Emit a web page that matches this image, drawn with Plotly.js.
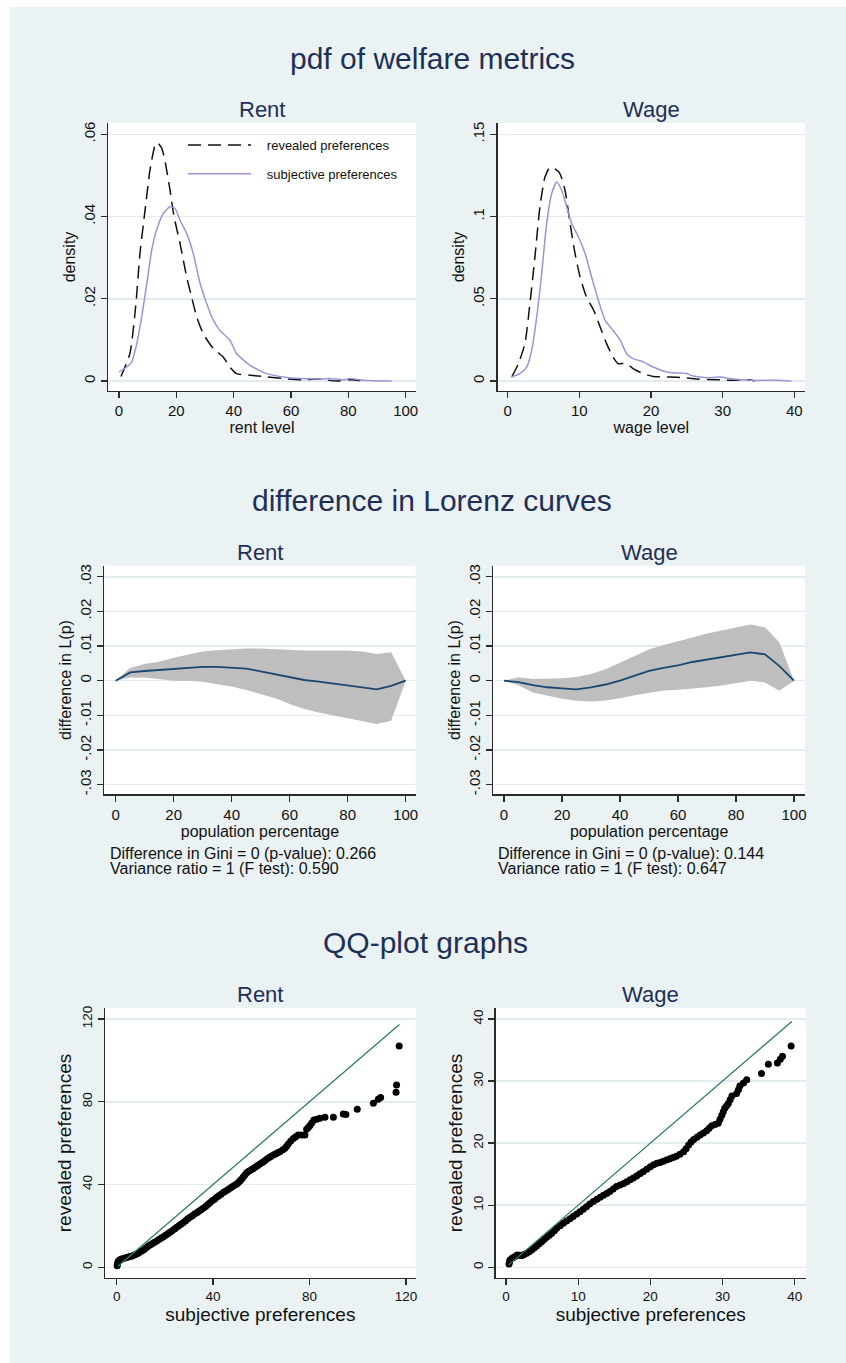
<!DOCTYPE html>
<html>
<head>
<meta charset="utf-8">
<script src="https://cdn.plot.ly/plotly-3.0.1.min.js"></script>
<style>
  html, body { margin: 0; padding: 0; background: #ffffff; }
  #chart { position: absolute; left: 10px; top: 7px; width: 836px; height: 1356px; }
</style>
</head>
<body>
<div id="chart"></div>
<script>
// ---------------- DATA ----------------
// pdf of welfare metrics — Rent
const pdfRentRevX = [0.7, 3.8, 5.9, 7.3, 9.1, 10.8, 12.6, 13.4, 14.9, 16, 17.8, 19.2, 21.3, 23.6, 25.3, 27.1, 29.4, 32.9, 36.4, 38.7, 41, 45.7, 51.5, 57.3, 64.3, 69, 76, 80.6, 85];
const pdfRentRevY = [.0011, .0067, .0188, .031, .0416, .0513, .0574, .058, .0566, .0537, .0464, .040, .0334, .0253, .0205, .0156, .0115, .0079, .0058, .0034, .0018, .0014, .001, .0006, .0003, .0005, 0, .0003, 0];
const pdfRentSubX = [0, 2.7, 4.4, 6.2, 7.9, 9.7, 11.4, 13.1, 15.5, 17.8, 19.5, 21.3, 23.6, 25.9, 28.3, 30.6, 32.9, 35.2, 38.7, 41, 45.7, 51.5, 57.3, 63.1, 71.3, 73.6, 78.3, 80.6, 85.2, 95.1];
const pdfRentSubY = [.0022, .0034, .0046, .0091, .0156, .0237, .0318, .0367, .0408, .0424, .042, .0391, .0359, .031, .0237, .0188, .0148, .0123, .0099, .0067, .0038, .0018, .001, .0006, .0005, .0006, .0003, .0006, .0002, 0];

// pdf of welfare metrics — Wage
const pdfWageRevX = [0.56, 1.5, 2.4, 3.1, 3.8, 4.5, 5.2, 5.9, 6.6, 7.3, 8.0, 8.7, 9.4, 10.1, 11.0, 12.0, 12.9, 13.8, 14.7, 15.4, 16.6, 17.5, 18.9, 20.3, 22.7, 24.5, 26.4, 29.2, 31, 33.8, 34.5];
const pdfWageRevY = [.0024, .0106, .0227, .047, .0755, .106, .124, .130, .129, .126, .116, .0958, .0775, .0633, .0511, .043, .0329, .0227, .0146, .0106, .0106, .0075, .0045, .0028, .0024, .002, .0012, .0008, .0004, .0008, 0];
const pdfWageSubX = [0.47, 1.7, 2.65, 3.35, 4.05, 4.74, 5.44, 6.14, 6.84, 7.53, 8.23, 8.93, 9.86, 10.8, 11.7, 12.65, 13.6, 14.7, 15.7, 16.6, 17.5, 18.9, 20.3, 22.2, 23.6, 25, 25.9, 27.8, 29.6, 31.5, 33.8, 37.5, 39.6];
const pdfWageSubY = [.0024, .0045, .0085, .0187, .039, .0654, .0958, .114, .121, .116, .106, .0958, .0877, .0775, .0633, .0491, .0369, .0308, .0248, .0166, .0136, .0116, .0085, .0055, .0049, .0045, .003, .002, .0024, .0012, .0004, .0004, 0];

// difference in Lorenz curves
const popPct = [0, 5, 10, 15, 20, 25, 30, 35, 40, 45, 50, 55, 60, 65, 70, 75, 80, 85, 90, 95, 100];
const rentDiff  = [0, .0024, .0028, .0031, .0036, .0038, .004, .004, .0037, .0035, .0027, .0019, .001, .0002, -.0003, -.0008, -.0012, -.0019, -.0025, -.0015, 0];
const rentUpper = [0, .0037, .0048, .0055, .0066, .0076, .0084, .0088, .0091, .0093, .0093, .0091, .0088, .0087, .0087, .0087, .0087, .0084, .0077, .0082, 0];
const rentLower = [0, .0009, .0009, .0004, 0, 0, -.0003, -.001, -.0017, -.0027, -.0038, -.0051, -.0067, -.0082, -.0092, -.01, -.0107, -.0115, -.0125, -.0116, 0];
const wageDiff  = [0, -.0004, -.0013, -.0019, -.0022, -.0025, -.0019, -.0011, 0, .0014, .0028, .0037, .0044, .0054, .0061, .0068, .0076, .0082, .0076, .0042, 0];
const wageUpper = [0, .001, .0005, .0006, .0007, .0011, .0019, .0033, .0052, .0072, .009, .0103, .0113, .0125, .0136, .0144, .0154, .0162, .0154, .011, 0];
const wageLower = [0, -.0013, -.0034, -.0043, -.0052, -.0058, -.006, -.0057, -.0051, -.0042, -.0035, -.0028, -.0026, -.0023, -.0019, -.0014, -.0008, 0, -.0005, -.0029, 0];
const rentGiniText = ["Difference in Gini = 0 (p-value): 0.266", "Variance ratio = 1 (F test): 0.590"];
const wageGiniText = ["Difference in Gini = 0 (p-value): 0.144", "Variance ratio = 1 (F test): 0.647"];

// QQ-plot graphs — Rent (subjective, revealed quantiles)
const qqRentX = [0.2,0.3,0.5,0.8,1.3,2.0,2.8,3.7,4.6,5.5,6.4,7.3,8.3,9.2,10.1,11.1,12.0,12.9,13.8,14.7,15.7,16.6,17.5,18.5,19.4,20.3,21.2,22.1,23.0,24.0,24.9,25.8,26.8,27.7,28.6,29.5,30.4,31.4,32.3,33.2,34.1,35.0,35.9,36.9,37.8,38.7,39.6,40.6,41.5,42.4,43.3,44.2,45.1,46.1,47,47.9,48.9,49.8,50.5,51.2,51.8,52.5,53.2,53.9,54.8,55.8,56.7,57.6,58.5,59.4,60.4,61.3,62.2,63.1,64.0,65,65.9,66.8,67.7,68.8,69.8,70.5,71.2,72.2,73.3,74.3,75.3,76.7,78.1,78.8,79.5,80.2,81.0,81.8,83.0,84.3,86.4,89.9,94.0,95.1,99.8,106.5,108.5,109.5,115.9,116.1,117.2];
const qqRentY = [0.8,1.6,2.4,3.1,3.6,4.0,4.3,4.6,4.9,5.2,5.5,5.9,6.4,7.0,7.7,8.4,9.2,10.0,10.8,11.4,12.1,12.7,13.4,14.1,14.8,15.5,16.2,16.9,17.7,18.5,19.3,20.1,20.9,21.7,22.5,23.4,24.2,24.9,25.7,26.4,27.1,27.8,28.5,29.4,30.3,31.2,32.1,32.9,33.8,34.6,35.3,36.1,36.8,37.5,38.2,38.9,39.6,40.3,41.0,41.8,42.5,43.6,44.6,45.7,46.4,47.1,47.8,48.5,49.2,49.9,50.7,51.4,52.2,52.9,53.6,54.3,54.8,55.4,55.9,56.7,57.5,58.5,59.6,61.0,62.3,63.1,63.9,63.9,63.9,66.7,67.6,68.5,69.8,71.2,71.6,72.0,72.5,72.5,74.1,73.9,76.4,79.3,81.2,82.0,84.6,88.1,107.0];
const qqRentLine = [0.4, 117.3];

// QQ-plot graphs — Wage
const qqWageX = [0.42,0.5,0.55,0.8,1.0,1.3,1.57,1.9,2.17,2.5,2.86,3.2,3.56,3.9,4.25,4.6,4.94,5.3,5.64,6.0,6.33,6.7,7.02,7.5,7.94,8.4,8.87,9.3,9.79,10.25,10.7,11.15,11.6,12.1,12.6,13.05,13.5,13.95,14.4,14.85,15.3,15.8,16.3,16.75,17.2,17.65,18.1,18.55,19.0,19.5,20.0,20.45,20.9,21.35,21.8,22.25,22.7,23.15,23.6,24.1,24.6,24.95,25.3,25.65,26.0,26.45,26.9,27.35,27.8,28.15,28.5,28.95,29.4,29.65,29.9,30.1,30.3,30.55,30.8,31.05,31.3,31.95,32.2,32.4,32.9,33.35,35.4,36.35,37.6,38.0,38.3,39.5];
const qqWageY = [0.54,0.9,1.18,1.4,1.56,1.8,1.99,1.95,1.88,2.05,2.26,2.5,2.79,3.1,3.44,3.8,4.13,4.5,4.83,5.15,5.48,5.9,6.28,6.7,7.09,7.45,7.84,8.2,8.59,8.95,9.34,9.75,10.2,10.6,10.95,11.3,11.6,11.9,12.2,12.6,13.0,13.25,13.5,13.8,14.1,14.4,14.7,15.05,15.4,15.8,16.2,16.5,16.75,16.9,17.1,17.3,17.5,17.7,17.9,18.2,18.6,19.1,19.7,20.2,20.6,20.95,21.3,21.65,22.0,22.4,22.8,23.0,23.2,23.85,24.5,25.05,25.6,26.0,26.4,27.0,27.6,28.0,28.6,29.2,29.7,30.2,31.2,32.7,32.9,33.5,34.0,35.65];
const qqWageLine = [0.35, 39.6];

// tick labels
const pdfRentXTicks = [0, 20, 40, 60, 80, 100];
const pdfRentYVals = [0, .02, .04, .06];
const pdfRentYText = ["0", ".02", ".04", ".06"];
const pdfWageXTicks = [0, 10, 20, 30, 40];
const pdfWageYVals = [0, .05, .1, .15];
const pdfWageYText = ["0", ".05", ".1", ".15"];
const lorXTicks = [0, 20, 40, 60, 80, 100];
const lorYVals = [-.03, -.02, -.01, 0, .01, .02, .03];
const lorYText = ["-.03", "-.02", "-.01", "0", ".01", ".02", ".03"];
const qqRentTicks = [0, 40, 80, 120];
const qqWageTicks = [0, 10, 20, 30, 40];

// ---------------- STYLE ----------------
const FONT = "Liberation Sans, Arial, sans-serif";
const BG = "#eaf2f3";
const TITLE_COL = "#1e2f58";
const AXCOL = "#2b2b2b";
const NAVY = "#1a476f";
const LAV = "#9a95d6";
const TEAL = "#2f7a74";
const GAP = "\u00a0\u00a0\u00a0";

const W = 836, H = 1356, OX = 10, OY = 7;
const fx = px => (px - OX) / W;
const fy = py => 1 - (py - OY) / H;

function xAxis(x0, x1, range, tickvals, title, tickSize, titleSize, anchor, standoff) {
  return {
    domain: [fx(x0), fx(x1)], range: range, anchor: anchor,
    tickmode: "array", tickvals: tickvals, ticktext: tickvals.map(String),
    ticks: "outside", ticklen: 6, tickwidth: 1.3, tickcolor: AXCOL,
    showline: true, linecolor: AXCOL, linewidth: 1.3,
    showgrid: false, zeroline: false,
    tickfont: { family: FONT, size: tickSize, color: "#111" },
    title: { text: title, font: { family: FONT, size: titleSize, color: "#111" }, standoff: standoff },
    automargin: false, fixedrange: true
  };
}
function yAxis(y0, y1, range, tickvals, ticktext, title, tickSize, titleSize, anchor, standoff) {
  return {
    domain: [fy(y1), fy(y0)], range: range, anchor: anchor,
    tickmode: "array", tickvals: tickvals, ticktext: ticktext,
    tickangle: -90,
    ticks: "outside", ticklen: 6, tickwidth: 1.3, tickcolor: AXCOL,
    showline: true, linecolor: AXCOL, linewidth: 1.3,
    showgrid: true, gridcolor: "#e2ebee", gridwidth: 1.5, zeroline: false,
    tickfont: { family: FONT, size: tickSize, color: "#111" },
    title: { text: title, font: { family: FONT, size: titleSize, color: "#111" }, standoff: standoff },
    automargin: false, fixedrange: true
  };
}

const traces = [];
// pdf rent
traces.push({ x: pdfRentRevX, y: pdfRentRevY, xaxis: "x", yaxis: "y", type: "scatter", mode: "lines",
  name: GAP + "revealed preferences", legendgroup: "a",
  line: { color: "#111", width: 1.5, dash: "13px,7px", shape: "spline", smoothing: 0.6 } });
traces.push({ x: pdfRentSubX, y: pdfRentSubY, xaxis: "x", yaxis: "y", type: "scatter", mode: "lines",
  name: GAP + "subjective preferences", legendgroup: "b",
  line: { color: LAV, width: 1.5, shape: "spline", smoothing: 0.6 } });
// pdf wage
traces.push({ x: pdfWageRevX, y: pdfWageRevY, xaxis: "x2", yaxis: "y2", type: "scatter", mode: "lines",
  showlegend: false, line: { color: "#111", width: 1.5, dash: "13px,7px", shape: "spline", smoothing: 0.6 } });
traces.push({ x: pdfWageSubX, y: pdfWageSubY, xaxis: "x2", yaxis: "y2", type: "scatter", mode: "lines",
  showlegend: false, line: { color: LAV, width: 1.5, shape: "spline", smoothing: 0.6 } });
// lorenz rent
traces.push({ x: popPct, y: rentUpper, xaxis: "x3", yaxis: "y3", type: "scatter", mode: "lines",
  showlegend: false, line: { width: 0, color: "#bebebe" } });
traces.push({ x: popPct, y: rentLower, xaxis: "x3", yaxis: "y3", type: "scatter", mode: "lines",
  showlegend: false, fill: "tonexty", fillcolor: "#bebebe", line: { width: 0, color: "#bebebe" } });
traces.push({ x: popPct, y: rentDiff, xaxis: "x3", yaxis: "y3", type: "scatter", mode: "lines",
  showlegend: false, line: { color: NAVY, width: 1.8 } });
// lorenz wage
traces.push({ x: popPct, y: wageUpper, xaxis: "x4", yaxis: "y4", type: "scatter", mode: "lines",
  showlegend: false, line: { width: 0, color: "#bebebe" } });
traces.push({ x: popPct, y: wageLower, xaxis: "x4", yaxis: "y4", type: "scatter", mode: "lines",
  showlegend: false, fill: "tonexty", fillcolor: "#bebebe", line: { width: 0, color: "#bebebe" } });
traces.push({ x: popPct, y: wageDiff, xaxis: "x4", yaxis: "y4", type: "scatter", mode: "lines",
  showlegend: false, line: { color: NAVY, width: 1.8 } });
// qq rent
traces.push({ x: qqRentX, y: qqRentY, xaxis: "x5", yaxis: "y5", type: "scatter", mode: "markers",
  showlegend: false, marker: { color: "#000", size: 7, line: { width: 0 } } });
traces.push({ x: qqRentLine, y: qqRentLine, xaxis: "x5", yaxis: "y5", type: "scatter", mode: "lines",
  showlegend: false, line: { color: TEAL, width: 1.3 } });
// qq wage
traces.push({ x: qqWageX, y: qqWageY, xaxis: "x6", yaxis: "y6", type: "scatter", mode: "markers",
  showlegend: false, marker: { color: "#000", size: 7, line: { width: 0 } } });
traces.push({ x: qqWageLine, y: qqWageLine, xaxis: "x6", yaxis: "y6", type: "scatter", mode: "lines",
  showlegend: false, line: { color: TEAL, width: 1.3 } });

function ann(text, px, py, size, color, xanchor) {
  return { text: text, xref: "paper", yref: "paper", x: fx(px), y: fy(py),
    xanchor: xanchor || "center", yanchor: "middle", showarrow: false,
    font: { family: FONT, size: size, color: color } };
}

const annotations = [
  ann("pdf of welfare metrics", 432, 59, 30, TITLE_COL),
  ann("difference in Lorenz curves", 432, 500, 30, TITLE_COL),
  ann("QQ-plot graphs", 425, 942, 30, TITLE_COL),
  ann("Rent", 262, 109, 22, TITLE_COL),
  ann("Wage", 651, 109, 22, TITLE_COL),
  ann("Rent", 260, 552, 22, TITLE_COL),
  ann("Wage", 649, 552, 22, TITLE_COL),
  ann("Rent", 260, 995, 22, TITLE_COL),
  ann("Wage", 650, 995, 22, TITLE_COL),
  ann(rentGiniText[0], 108, 853, 16, "#111", "left"),
  ann(rentGiniText[1], 108, 868, 16, "#111", "left"),
  ann(wageGiniText[0], 496, 853, 16, "#111", "left"),
  ann(wageGiniText[1], 496, 868, 16, "#111", "left")
];

const layout = {
  width: W, height: H,
  margin: { l: 0, r: 0, t: 0, b: 0, pad: 0 },
  paper_bgcolor: BG, plot_bgcolor: "#ffffff",
  font: { family: FONT, color: "#111" },
  showlegend: true,
  legend: {
    x: fx(183), y: fy(130), xanchor: "left", yanchor: "top",
    bgcolor: "rgba(0,0,0,0)", borderwidth: 0,
    traceorder: "grouped", tracegroupgap: 9, itemwidth: 63,
    font: { family: FONT, size: 13, color: "#111" }
  },
  xaxis:  xAxis(108, 416, [-3.84, 103.6], pdfRentXTicks, "rent level", 15, 16, "y", 3),
  yaxis:  yAxis(123, 391, [-0.00243, 0.06275], pdfRentYVals, pdfRentYText, "density", 15, 16, "x", 1),
  xaxis2: xAxis(497.7, 805, [-1.396, 41.49], pdfWageXTicks, "wage level", 15, 16, "y2", 3),
  yaxis2: yAxis(123, 391, [-0.00608, 0.1569], pdfWageYVals, pdfWageYText, "density", 15, 16, "x2", 1),
  xaxis3: xAxis(104.3, 415.7, [-3.93, 103.45], lorXTicks, "population percentage", 15, 16, "y3", 3),
  yaxis3: yAxis(565.7, 794.3, [-0.0328, 0.0332], lorYVals, lorYText, "difference in L(p)", 15, 16, "x3", 1),
  xaxis4: xAxis(493.3, 805, [-3.69, 103.8], lorXTicks, "population percentage", 15, 16, "y4", 3),
  yaxis4: yAxis(565.7, 794.3, [-0.0328, 0.0332], lorYVals, lorYText, "difference in L(p)", 15, 16, "x4", 1),
  xaxis5: xAxis(105, 415.7, [-4.85, 124.05], qqRentTicks, "subjective preferences", 13.5, 19, "y5", 3),
  yaxis5: yAxis(1008.3, 1277.7, [-5.03, 125.17], qqRentTicks, qqRentTicks.map(String), "revealed preferences", 13.5, 19, "x5", 3),
  xaxis6: xAxis(495.7, 805.7, [-1.427, 41.52], qqWageTicks, "subjective preferences", 13.5, 19, "y6", 3),
  yaxis6: yAxis(1008.3, 1277.7, [-1.675, 41.72], qqWageTicks, qqWageTicks.map(String), "revealed preferences", 13.5, 19, "x6", 3),
  annotations: annotations
};

Plotly.newPlot("chart", traces, layout, { staticPlot: true, displayModeBar: false });
</script>
</body>
</html>
